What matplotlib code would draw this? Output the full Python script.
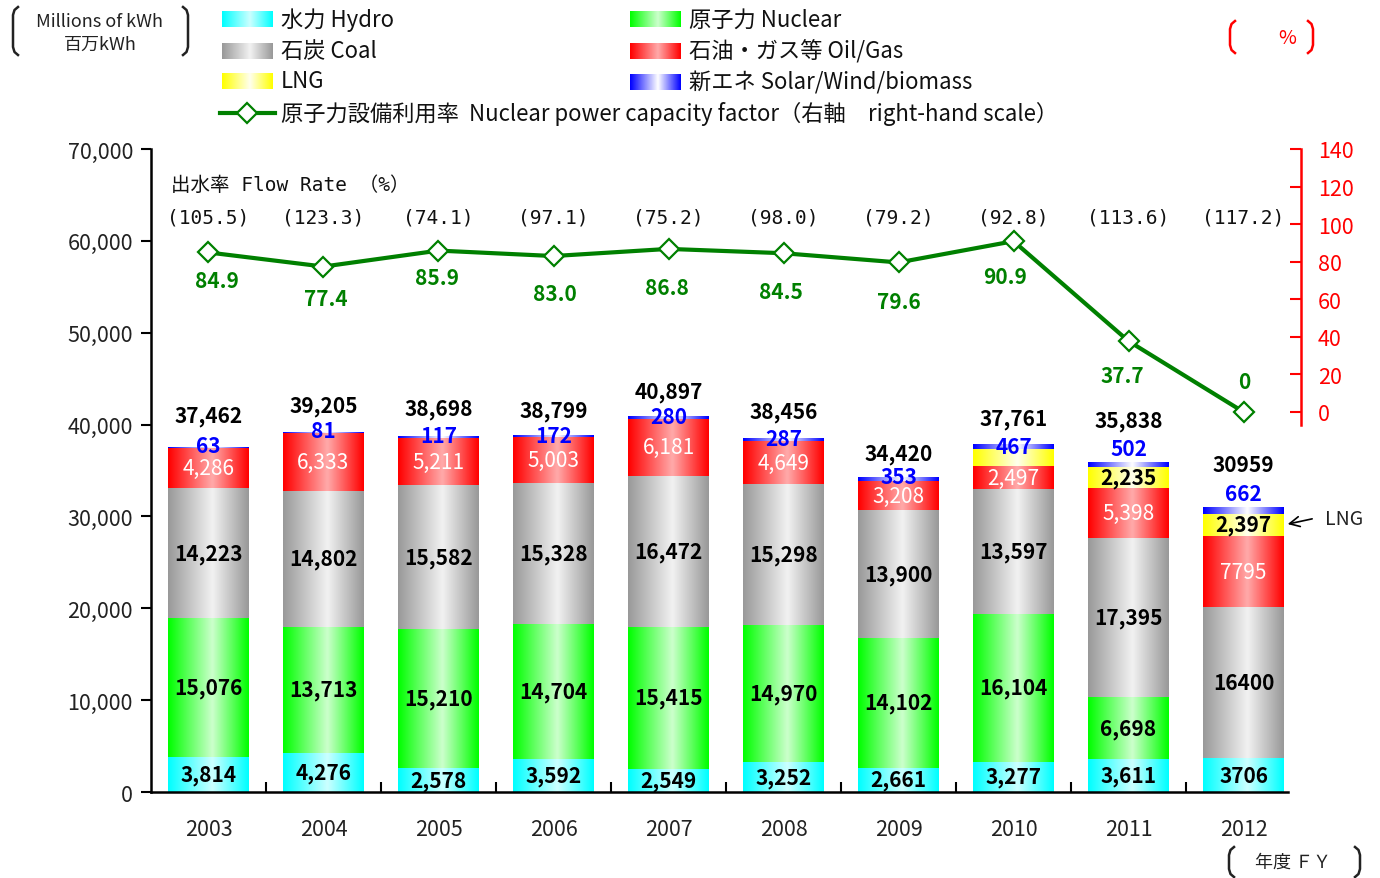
import numpy as np
import matplotlib
matplotlib.use('Agg')
import matplotlib.pyplot as plt
from matplotlib.colors import to_rgb

plt.rcParams['font.family'] = ['Noto Sans CJK JP', 'DejaVu Sans']

# data (million kWh)
years = ['2003', '2004', '2005', '2006', '2007', '2008', '2009', '2010', '2011', '2012']
hydro = [3814, 4276, 2578, 3592, 2549, 3252, 2661, 3277, 3611, 3706]
nuclear = [15076, 13713, 15210, 14704, 15415, 14970, 14102, 16104, 6698, 0]
coal = [14223, 14802, 15582, 15328, 16472, 15298, 13900, 13597, 17395, 16400]
oil_gas = [4286, 6333, 5211, 5003, 6181, 4649, 3208, 2497, 5398, 7795]
lng = [0, 0, 0, 0, 0, 0, 0, 1819, 2235, 2397]
solar = [63, 81, 117, 172, 280, 287, 353, 467, 502, 662]
totals = [37462, 39205, 38698, 38799, 40897, 38456, 34420, 37761, 35838, 30959]
capacity_factor = [84.9, 77.4, 85.9, 83.0, 86.8, 84.5, 79.6, 90.9, 37.7, 0]
flow_rate = [105.5, 123.3, 74.1, 97.1, 75.2, 98.0, 79.2, 92.8, 113.6, 117.2]

GREEN = '#008000'
MONO = ['DejaVu Sans Mono', 'Noto Sans CJK JP']


def gradient(base, light, n=80):
    t = np.linspace(0, 1, n)
    w = np.where(t < 0.55, t / 0.55, (1 - t) / 0.45)
    c0 = np.array(to_rgb(base))
    c1 = np.array(to_rgb(light))
    row = c0[None, :] * (1 - w[:, None]) + c1[None, :] * w[:, None]
    return row[None, :, :]


grads = {
    'hydro': gradient('#00ffff', '#ccffff'),
    'nuclear': gradient('#00ff00', '#ccffcc'),
    'coal': gradient('#999999', '#f2f2f2'),
    'oil': gradient('#ff0000', '#ffaaaa'),
    'lng': gradient('#ffff00', '#ffffee'),
    'solar': gradient('#0000ff', '#ffffff'),
}

fig = plt.figure(figsize=(13.8, 8.79), dpi=100)
ax = fig.add_axes([0.1094, 0.0978, 0.8334, 0.7316])
ax.set_facecolor('none')

x = np.arange(len(years))
bw = 0.7
bottom = np.zeros(len(years))
series = [('hydro', hydro), ('nuclear', nuclear), ('coal', coal),
          ('oil', oil_gas), ('lng', lng), ('solar', solar)]
centers = {}
for name, vals in series:
    vals = np.array(vals, dtype=float)
    bars = ax.bar(x, vals, bw, bottom=bottom, color='none', lw=0)
    for b in bars:
        if b.get_height() <= 0:
            continue
        ax.imshow(grads[name], extent=(b.get_x(), b.get_x() + b.get_width(),
                                       b.get_y(), b.get_y() + b.get_height()),
                  aspect='auto', interpolation='bilinear', zorder=2)
    centers[name] = bottom + vals / 2
    bottom = bottom + vals
tops = bottom


def fmt(v, i, comma=True):
    return f'{v:,}' if (comma or i < 9) else str(v)


for i in range(len(years)):
    ax.text(x[i], centers['hydro'][i], fmt(hydro[i], i, False), ha='center', va='center',
            fontsize=15, fontweight='bold', color='black', zorder=4)
    if nuclear[i] > 0:
        ax.text(x[i], centers['nuclear'][i], fmt(nuclear[i], i, False), ha='center',
                va='center', fontsize=15, fontweight='bold', color='black', zorder=4)
    ax.text(x[i], centers['coal'][i], fmt(coal[i], i, False), ha='center', va='center',
            fontsize=15, fontweight='bold', color='black', zorder=4)
    ax.text(x[i], centers['oil'][i], fmt(oil_gas[i], i, False), ha='center', va='center',
            fontsize=15, color='white', zorder=4)
    if lng[i] >= 2000:
        ax.text(x[i], centers['lng'][i], fmt(lng[i], i), ha='center', va='center',
                fontsize=15, fontweight='bold', color='black', zorder=4)

solar_dy = [2, 1, 1, 0, 0, 0, 1, -1, 14, 14]
total_dy = [32, 26, 28, 25, 25, 27, 24, 27, 42, 43]
for i in range(len(years)):
    ax.annotate(str(solar[i]), (x[i], tops[i]), xytext=(0, solar_dy[i]),
                textcoords='offset pixels', ha='center', va='center',
                fontsize=15, fontweight='bold', color='#0000ff', zorder=4)
    ax.annotate(fmt(totals[i], i, False), (x[i], tops[i]), xytext=(0, total_dy[i]),
                textcoords='offset pixels', ha='center', va='center',
                fontsize=15, fontweight='bold', color='black', zorder=4)

# LNG pointer for 2012
ax.annotate('', xy=(x[9] + bw / 2 + 0.01, centers['lng'][9]),
            xytext=(x[9] + 0.62, centers['lng'][9] + 700),
            arrowprops=dict(arrowstyle='->', color='black', lw=1.2, mutation_scale=18),
            zorder=5, annotation_clip=False)
ax.annotate('LNG', (x[9] + 0.62, centers['lng'][9] + 700), xytext=(10, 0),
            textcoords='offset pixels', ha='left', va='center', fontsize=14,
            color='#222222', annotation_clip=False)

# flow rate row
ax.text(-0.33, 66150, '出水率 Flow Rate （%）', ha='left', va='center', fontsize=14,
        family=MONO, color='#111111')
for i, v in enumerate(flow_rate):
    ax.text(x[i], 62600, f'({v:.1f})', ha='center', va='center', fontsize=14,
            family=MONO, color='#111111')

# axes styling
ax.set_xlim(-0.5, 9.5)
ax.set_ylim(0, 70000)
ax.set_yticks(np.arange(0, 70001, 10000))
ax.set_yticklabels([f'{v:,}' for v in range(0, 70001, 10000)], fontsize=15.5, color='#222222')
ax.tick_params(axis='y', direction='out', length=7, width=1.5, pad=6)
ax.set_xticks(np.arange(0.5, 9, 1))
ax.set_xticklabels([])
ax.set_xticks(x, minor=True)
ax.set_xticklabels(years, minor=True, fontsize=15.5, color='#222222')
ax.tick_params(axis='x', which='major', direction='in', length=7, width=1.5)
ax.tick_params(axis='x', which='minor', length=0, pad=19)
ax.spines['top'].set_visible(False)
ax.spines['right'].set_visible(False)
ax.spines['left'].set_linewidth(1.8)
ax.spines['bottom'].set_linewidth(1.8)
ax.spines['bottom'].set_bounds(-0.5, 9.39)

# right axis: capacity factor
ax2 = ax.twinx()
ax2.plot(x, capacity_factor, color=GREEN, lw=3, marker='D', markersize=10,
         markerfacecolor='white', markeredgecolor=GREEN, markeredgewidth=1.6, zorder=5)
cf_dx = [8, 2, -1, 1, -2, -3, 0, -8, -6, 1]
cf_dy = [-28, -32, -27, -37, -39, -38, -39, -35, -34, 30]
for i, v in enumerate(capacity_factor):
    ax2.annotate(f'{v:.1f}' if v else '0', (x[i], v), xytext=(cf_dx[i], cf_dy[i]),
                 textcoords='offset pixels', ha='center', va='center',
                 fontsize=15, fontweight='bold', color=GREEN)
ax2.set_ylim(-202.3, 140)
ax2.set_yticks(np.arange(0, 141, 20))
ax2.set_yticklabels([str(v) for v in range(0, 141, 20)], fontsize=15.5, color='#ff0000')
ax2.tick_params(axis='y', direction='in', length=8, width=1.5, color='#ff0000', pad=12)
for s in ['top', 'left', 'bottom']:
    ax2.spines[s].set_visible(False)
ax2.spines['right'].set_color('#ff0000')
ax2.spines['right'].set_linewidth(1.8)
ax2.spines['right'].set_bounds(-7, 140)

# overlay for legend and unit notes (pixel coordinates)
ov = fig.add_axes([0, 0, 1, 1], zorder=10)
ov.axis('off')
ov.patch.set_alpha(0)


def bracket(xe, y0, y1, side, color):
    d = 5 if side == 'left' else -5
    xs = [xe + d, xe + d * 0.3, xe, xe, xe + d * 0.3, xe + d]
    ys = [y0, y0 + 3, y0 + 8, y1 - 8, y1 - 3, y1]
    ov.plot(xs, ys, color=color, lw=1.8)


bracket(13, 8, 56, 'left', '#222222')
bracket(188, 8, 56, 'right', '#222222')
ov.text(100, 22, 'Millions of kWh', ha='center', va='center', fontsize=13, color='#222222')
ov.text(100, 45, '百万kWh', ha='center', va='center', fontsize=13, color='#222222')

bracket(1230, 22, 54, 'left', '#ff0000')
bracket(1313, 22, 54, 'right', '#ff0000')
ov.text(1287, 39, '%', ha='center', va='center', fontsize=14, color='#ff0000')

bracket(1229, 848, 878, 'left', '#222222')
bracket(1360, 848, 878, 'right', '#222222')
ov.text(1293, 863, '年度 ＦＹ', ha='center', va='center', fontsize=13, color='#222222')

legend_items = [
    ('hydro', '水力 Hydro', 222, 20),
    ('coal', '石炭 Coal', 222, 52),
    ('lng', 'LNG', 222, 82),
    ('nuclear', '原子力 Nuclear', 630, 20),
    ('oil', '石油・ガス等 Oil/Gas', 630, 52),
    ('solar', '新エネ Solar/Wind/biomass', 630, 83),
]
for key, label, lx, ly in legend_items:
    ov.imshow(grads[key], extent=(lx, lx + 51, ly + 8, ly - 8), aspect='auto',
              interpolation='bilinear')
    ov.text(lx + 59, ly, label, ha='left', va='center', fontsize=16, color='#111111')
ov.plot([220, 275], [114, 114], color=GREEN, lw=3)
ov.plot([247], [114], marker='D', markersize=10, markerfacecolor='white',
        markeredgecolor=GREEN, markeredgewidth=1.6)
ov.text(281, 114, '原子力設備利用率  Nuclear power capacity factor（右軸　right-hand scale）',
        ha='left', va='center', fontsize=16, color='#111111')
ov.set_xlim(0, 1380)
ov.set_ylim(879, 0)

plt.savefig('out.png', dpi=100)
